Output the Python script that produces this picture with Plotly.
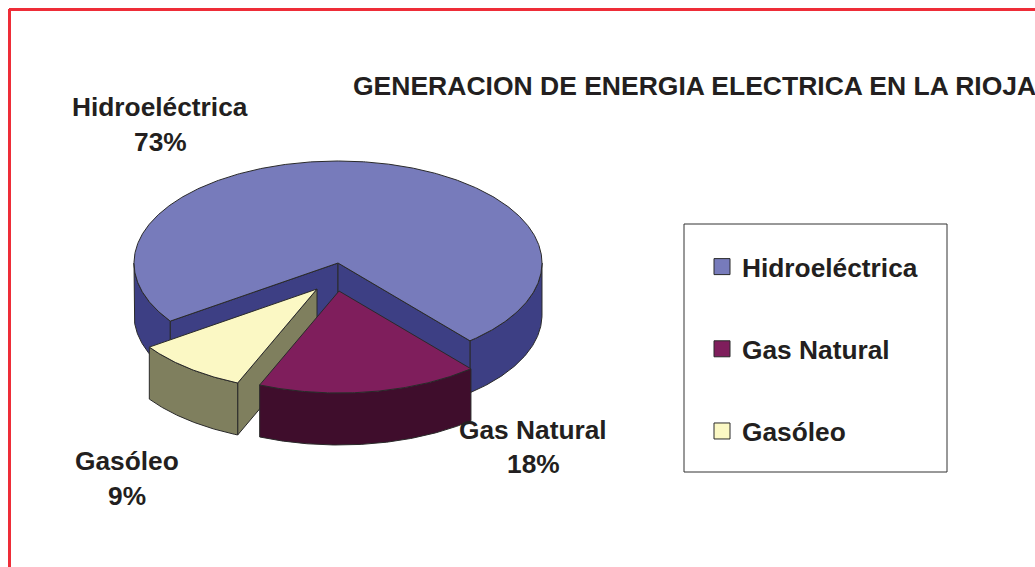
import numpy as np
import plotly.graph_objects as go

categories = ["Hidroeléctrica", "Gas Natural", "Gasóleo"]
values = [73.45, 17.55, 9.0]
top_colors = ["#777BBB", "#7F1E5C", "#FBF8C4"]
side_colors = ["#3D3F84", "#3F0D2C", "#7F7F5E"]
explode = [(0, 0), (1, 28), (-21, 26)]
title_text = "GENERACION DE ENERGIA ELECTRICA EN LA RIOJA"
label_pos = [(160, 107, 142), (533, 430, 464), (127, 461, 496)]

CX, CY, RX, RY, DEPTH = 338, 263, 204, 102, 52
START = 49.7
EDGE = "#2A2A2A"
TXT = "#231F20"
FONT = "Liberation Sans"
FS = 26.3

def pt(a, off):
    t = np.radians(a)
    return CX + off[0] + RX * np.cos(t), CY + off[1] + RY * np.sin(t)

def arc(a0, a1, off, dy=0):
    n = max(int(abs(a1 - a0) * 2), 2)
    ang = np.linspace(a0, a1, n)
    x, y = pt(ang, off)
    return list(x), list(y + dy)

def poly(fig, xs, ys, fill):
    fig.add_trace(go.Scatter(x=xs, y=ys, mode="lines", fill="toself", fillcolor=fill,
                             line=dict(color=EDGE, width=1), hoverinfo="skip", showlegend=False))

def rim(fig, a0, a1, off, fill):
    if a1 <= a0:
        return
    x, y = arc(a0, a1, off)
    xb, yb = arc(a1, a0, off, DEPTH)
    poly(fig, x + xb + x[:1], y + yb + y[:1], fill)

def wall(fig, a, off, fill):
    ax, ay = CX + off[0], CY + off[1]
    ex, ey = pt(a, off)
    poly(fig, [ax, ex, ex, ax, ax], [ay, ey, ey + DEPTH, ay + DEPTH, ay], fill)

def top(fig, a0, a1, off, fill):
    x, y = arc(a0, a1, off)
    ax, ay = CX + off[0], CY + off[1]
    poly(fig, [ax] + x + [ax], [ay] + y + [ay], fill)

spans = [v / sum(values) * 360 for v in values]
a_gas0, a_gas1 = START, START + spans[1]
a_oil0, a_oil1 = a_gas1, a_gas1 + spans[2]
hydro_a0 = a_oil1

fig = go.Figure()

# Hydro slice
rim(fig, hydro_a0, 180, explode[0], side_colors[0])
rim(fig, 360, START + 360, explode[0], side_colors[0])
wall(fig, hydro_a0, explode[0], side_colors[0])
wall(fig, START, explode[0], side_colors[0])
top(fig, hydro_a0, START + 360, explode[0], top_colors[0])

# Gasoleo slice
wall(fig, a_oil0, explode[2], side_colors[2])
rim(fig, a_oil0, a_oil1, explode[2], side_colors[2])
top(fig, a_oil0, a_oil1, explode[2], top_colors[2])

# Gas slice
rim(fig, a_gas0, a_gas1, explode[1], side_colors[1])
top(fig, a_gas0, a_gas1, explode[1], top_colors[1])

# Legend entries
for i, c in enumerate(categories):
    fig.add_trace(go.Scatter(x=[None], y=[None], mode="markers", name=c, legendgroup=c,
                             marker=dict(symbol="square", size=17, color=top_colors[i],
                                         line=dict(color=EDGE, width=1))))

annots = []
for c, v, (x, y1, y2) in zip(categories, values, label_pos):
    annots.append(dict(x=x, y=y1, text=f"<b>{c}</b>", showarrow=False,
                       font=dict(family=FONT, size=FS, color=TXT)))
    annots.append(dict(x=x, y=y2, text=f"<b>{round(v)}%</b>", showarrow=False,
                       font=dict(family=FONT, size=FS, color=TXT)))

shapes = [
    dict(type="rect", x0=684, x1=947, y0=224, y1=472, line=dict(color="#333333", width=1), layer="below"),
    dict(type="line", x0=9.5, x1=9.5, y0=9, y1=567, line=dict(color="#EE2D38", width=3)),
    dict(type="line", x0=9, x1=1035, y0=9.5, y1=9.5, line=dict(color="#EE2D38", width=3)),
]

fig.update_layout(
    width=1035, height=567,
    margin=dict(l=0, r=0, t=0, b=0),
    paper_bgcolor="white", plot_bgcolor="white",
    xaxis=dict(range=[0, 1035], visible=False, fixedrange=True),
    yaxis=dict(range=[567, 0], visible=False, fixedrange=True),
    title=dict(text=f"<b>{title_text}</b>", x=353 / 1035, xanchor="left", y=1 - 86 / 567, yanchor="middle",
               font=dict(family=FONT, size=26.5, color=TXT)),
    legend=dict(x=702 / 1035, xanchor="left", y=1 - 243 / 567, yanchor="top", bgcolor="rgba(0,0,0,0)",
                tracegroupgap=45, font=dict(family=FONT, size=FS, color=TXT, weight="bold"),
                itemclick=False, itemdoubleclick=False),
    annotations=annots, shapes=shapes, showlegend=True,
)
fig.write_html("out.html", config={"displayModeBar": False},
               post_script="document.body.style.margin='0';document.body.style.overflow='hidden';")
